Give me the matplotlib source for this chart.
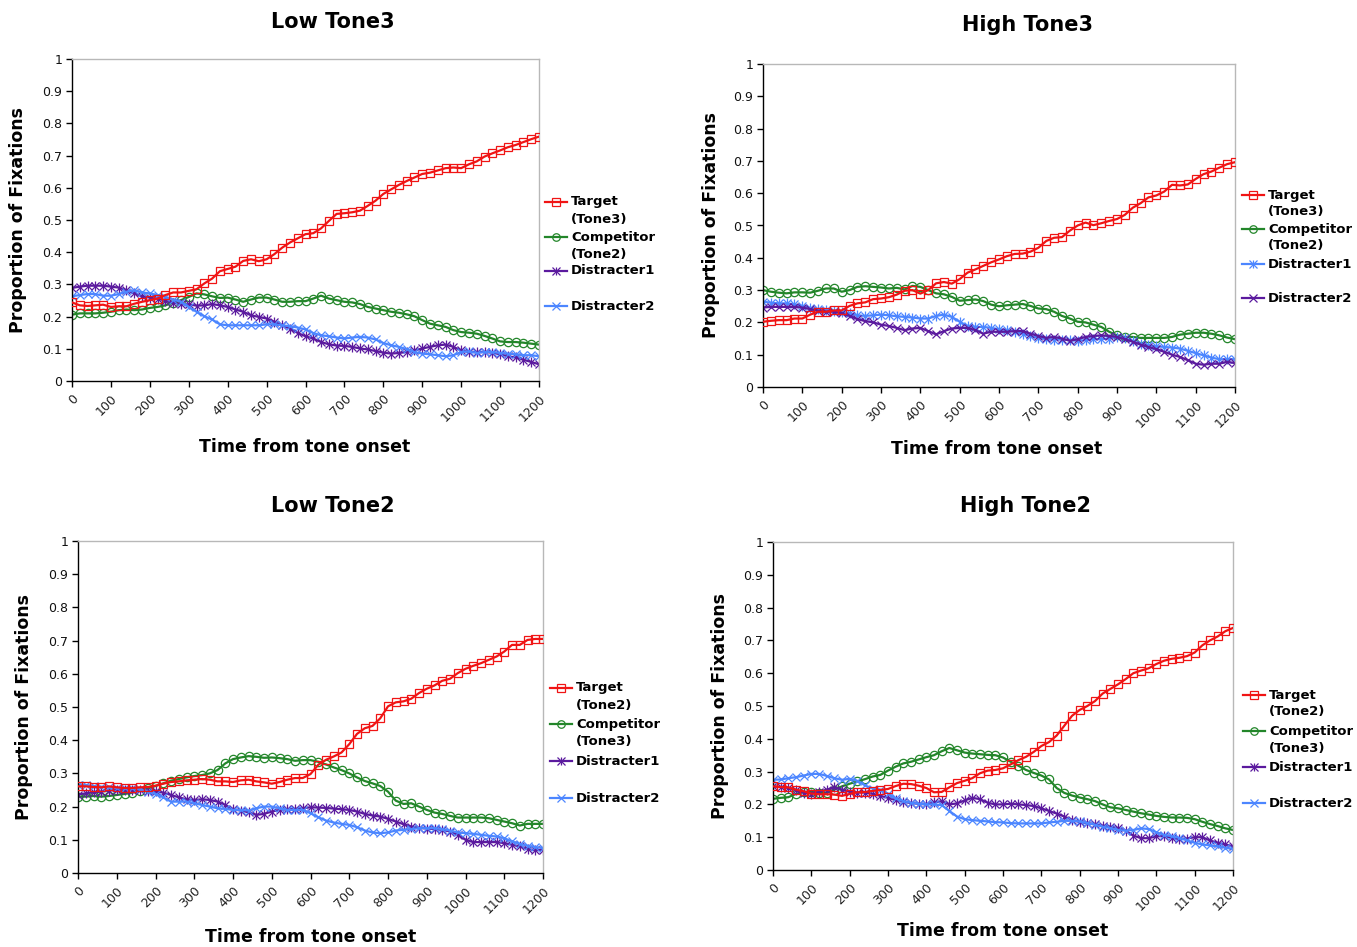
import numpy as np
import matplotlib
matplotlib.use("Agg")
import matplotlib.pyplot as plt
from matplotlib.lines import Line2D

# ---------------- data ----------------
times = list(range(0, 1201, 20))

# Low Tone3
lt3_target = [0.244,0.235,0.233,0.235,0.237,0.230,0.232,0.232,0.240,0.246,0.251,0.256,0.267,0.275,0.275,0.280,
              0.285,0.303,0.318,0.341,0.348,0.355,0.373,0.378,0.372,0.378,0.394,0.414,0.430,0.443,0.456,0.459,
              0.474,0.497,0.519,0.521,0.524,0.529,0.544,0.560,0.581,0.595,0.609,0.621,0.632,0.643,0.647,0.654,
              0.661,0.663,0.661,0.673,0.682,0.697,0.707,0.716,0.726,0.733,0.742,0.751,0.759]
lt3_comp = [0.206,0.210,0.210,0.210,0.212,0.215,0.220,0.222,0.220,0.222,0.227,0.230,0.235,0.243,0.251,0.261,
            0.272,0.269,0.263,0.258,0.259,0.253,0.246,0.253,0.259,0.259,0.253,0.246,0.246,0.248,0.248,0.256,
            0.265,0.256,0.251,0.246,0.244,0.239,0.230,0.225,0.220,0.215,0.212,0.207,0.201,0.189,0.178,0.173,
            0.168,0.158,0.152,0.150,0.147,0.140,0.132,0.123,0.121,0.121,0.119,0.116,0.113]
lt3_d1 = [0.289,0.293,0.296,0.296,0.296,0.293,0.290,0.282,0.272,0.263,0.259,0.256,0.249,0.243,0.239,0.238,
          0.234,0.235,0.239,0.235,0.230,0.222,0.215,0.204,0.199,0.194,0.184,0.173,0.163,0.149,0.139,0.132,
          0.121,0.114,0.110,0.109,0.106,0.101,0.098,0.093,0.088,0.085,0.087,0.090,0.095,0.101,0.106,0.111,
          0.113,0.106,0.095,0.090,0.090,0.090,0.088,0.083,0.077,0.073,0.066,0.059,0.052]
lt3_d2 = [0.263,0.267,0.270,0.270,0.265,0.265,0.270,0.277,0.282,0.275,0.272,0.267,0.261,0.253,0.246,0.230,
          0.215,0.201,0.191,0.176,0.173,0.173,0.173,0.173,0.173,0.176,0.176,0.173,0.170,0.166,0.160,0.149,
          0.142,0.139,0.135,0.132,0.135,0.137,0.135,0.129,0.118,0.111,0.106,0.099,0.090,0.085,0.083,0.080,
          0.077,0.080,0.090,0.092,0.087,0.090,0.090,0.087,0.085,0.083,0.080,0.080,0.077]

# High Tone3
ht3_target = [0.202,0.205,0.207,0.207,0.212,0.212,0.224,0.233,0.233,0.237,0.237,0.251,0.259,0.262,0.272,0.274,
              0.278,0.286,0.298,0.300,0.289,0.300,0.321,0.325,0.320,0.334,0.354,0.364,0.375,0.386,0.395,0.405,
              0.412,0.413,0.419,0.431,0.452,0.462,0.464,0.484,0.500,0.509,0.501,0.507,0.514,0.520,0.533,0.555,
              0.569,0.587,0.593,0.605,0.626,0.624,0.627,0.644,0.659,0.667,0.679,0.690,0.696]
ht3_comp = [0.300,0.295,0.292,0.290,0.293,0.293,0.292,0.298,0.305,0.305,0.295,0.300,0.310,0.312,0.310,0.308,
            0.305,0.307,0.302,0.313,0.310,0.300,0.290,0.287,0.279,0.267,0.269,0.271,0.266,0.255,0.250,0.253,
            0.255,0.257,0.251,0.243,0.241,0.233,0.220,0.212,0.202,0.200,0.193,0.186,0.171,0.160,0.155,0.155,
            0.152,0.152,0.152,0.152,0.155,0.162,0.165,0.168,0.168,0.165,0.160,0.153,0.148]
ht3_d1 = [0.264,0.261,0.259,0.259,0.256,0.251,0.245,0.241,0.238,0.235,0.233,0.228,0.222,0.220,0.222,0.224,
          0.222,0.219,0.217,0.215,0.212,0.212,0.220,0.224,0.217,0.202,0.189,0.186,0.186,0.183,0.179,0.176,
          0.171,0.165,0.158,0.152,0.148,0.147,0.147,0.145,0.143,0.145,0.148,0.148,0.150,0.155,0.152,0.142,
          0.134,0.129,0.126,0.124,0.122,0.119,0.112,0.105,0.098,0.091,0.086,0.086,0.086]
ht3_d2 = [0.246,0.248,0.248,0.248,0.248,0.246,0.241,0.236,0.233,0.233,0.228,0.220,0.210,0.204,0.200,0.193,
          0.189,0.183,0.176,0.181,0.183,0.173,0.163,0.173,0.181,0.183,0.183,0.176,0.165,0.171,0.171,0.171,
          0.173,0.173,0.165,0.158,0.152,0.155,0.150,0.143,0.148,0.155,0.158,0.160,0.158,0.155,0.148,0.140,
          0.131,0.124,0.117,0.109,0.100,0.093,0.083,0.072,0.069,0.072,0.072,0.078,0.074]

# Low Tone2
lt2_target = [0.261,0.261,0.259,0.258,0.261,0.258,0.256,0.256,0.258,0.259,0.263,0.269,0.274,0.276,0.279,0.281,
              0.283,0.281,0.276,0.276,0.274,0.279,0.281,0.276,0.273,0.269,0.274,0.281,0.286,0.286,0.298,0.326,
              0.341,0.351,0.363,0.388,0.419,0.436,0.443,0.466,0.502,0.514,0.517,0.525,0.542,0.555,0.565,0.579,
              0.585,0.602,0.615,0.624,0.632,0.642,0.652,0.667,0.687,0.687,0.702,0.705,0.705]
lt2_comp = [0.230,0.230,0.232,0.230,0.232,0.235,0.238,0.242,0.248,0.255,0.262,0.270,0.278,0.283,0.288,0.292,
            0.295,0.300,0.310,0.330,0.343,0.348,0.352,0.350,0.347,0.348,0.346,0.343,0.338,0.340,0.340,0.335,
            0.327,0.318,0.310,0.300,0.288,0.277,0.270,0.262,0.245,0.218,0.208,0.210,0.200,0.190,0.182,0.178,
            0.172,0.167,0.167,0.167,0.167,0.165,0.160,0.155,0.150,0.143,0.148,0.148,0.148]
lt2_d1 = [0.236,0.240,0.243,0.245,0.248,0.250,0.250,0.250,0.250,0.248,0.246,0.242,0.235,0.228,0.222,0.220,
          0.222,0.220,0.215,0.205,0.192,0.188,0.183,0.175,0.178,0.185,0.190,0.192,0.193,0.195,0.198,0.197,
          0.196,0.194,0.192,0.190,0.185,0.178,0.173,0.170,0.163,0.155,0.147,0.140,0.136,0.134,0.132,0.130,
          0.125,0.115,0.100,0.093,0.093,0.093,0.093,0.090,0.085,0.080,0.073,0.068,0.070]
lt2_d2 = [0.266,0.265,0.262,0.260,0.258,0.256,0.255,0.255,0.252,0.245,0.238,0.228,0.215,0.215,0.215,0.210,
          0.205,0.200,0.195,0.193,0.190,0.190,0.188,0.195,0.200,0.200,0.195,0.190,0.190,0.190,0.180,0.168,
          0.158,0.152,0.148,0.145,0.138,0.128,0.122,0.120,0.122,0.128,0.130,0.132,0.135,0.135,0.135,0.132,
          0.128,0.122,0.120,0.118,0.115,0.112,0.110,0.105,0.095,0.088,0.082,0.078,0.075]

# High Tone2
ht2_target = [0.255,0.253,0.252,0.245,0.240,0.233,0.231,0.231,0.230,0.226,0.232,0.237,0.238,0.241,0.244,0.247,
              0.256,0.263,0.262,0.257,0.250,0.237,0.238,0.252,0.265,0.272,0.280,0.295,0.303,0.305,0.310,0.322,
              0.335,0.345,0.360,0.378,0.390,0.410,0.440,0.470,0.488,0.500,0.515,0.538,0.552,0.566,0.582,0.600,
              0.608,0.615,0.628,0.638,0.644,0.647,0.652,0.663,0.685,0.700,0.712,0.728,0.738]
ht2_comp = [0.217,0.220,0.222,0.232,0.238,0.238,0.235,0.236,0.245,0.255,0.263,0.270,0.277,0.285,0.290,0.303,
            0.315,0.325,0.330,0.337,0.344,0.350,0.362,0.372,0.365,0.358,0.355,0.353,0.351,0.350,0.343,0.330,
            0.318,0.305,0.296,0.288,0.276,0.250,0.235,0.227,0.221,0.216,0.210,0.200,0.191,0.188,0.183,0.178,
            0.173,0.169,0.165,0.162,0.160,0.160,0.159,0.155,0.147,0.140,0.134,0.127,0.122]
ht2_d1 = [0.255,0.253,0.250,0.243,0.235,0.233,0.238,0.245,0.252,0.245,0.238,0.236,0.236,0.232,0.226,0.220,
          0.213,0.208,0.204,0.202,0.200,0.206,0.210,0.200,0.203,0.212,0.220,0.216,0.205,0.200,0.200,0.202,
          0.200,0.198,0.195,0.188,0.180,0.172,0.163,0.153,0.146,0.143,0.140,0.135,0.132,0.128,0.120,0.105,
          0.097,0.097,0.103,0.103,0.098,0.094,0.096,0.100,0.100,0.090,0.083,0.078,0.072]
ht2_d2 = [0.275,0.276,0.280,0.283,0.288,0.293,0.293,0.287,0.280,0.275,0.278,0.272,0.258,0.248,0.245,0.233,
          0.218,0.210,0.205,0.202,0.200,0.200,0.198,0.180,0.163,0.155,0.152,0.150,0.148,0.146,0.145,0.143,
          0.142,0.142,0.142,0.142,0.145,0.147,0.150,0.150,0.148,0.143,0.138,0.132,0.128,0.122,0.120,0.122,
          0.127,0.125,0.115,0.107,0.103,0.098,0.090,0.083,0.078,0.075,0.072,0.068,0.064]

titles = ["Low Tone3", "High Tone3", "Low Tone2", "High Tone2"]
xticks = list(range(0, 1201, 100))
yticks = [0, 0.1, 0.2, 0.3, 0.4, 0.5, 0.6, 0.7, 0.8, 0.9, 1]
ytick_labels = ["0", "0.1", "0.2", "0.3", "0.4", "0.5", "0.6", "0.7", "0.8", "0.9", "1"]

# ---------------- style ----------------
W, H = 1357, 947
RED = "#F01414"
GREEN = "#23862A"
PURPLE = "#5B1A9E"
BLUE = "#4C86FF"

def fx(px):
    return px / W

def fy(py):
    return 1 - py / H

fig = plt.figure(figsize=(W / 100, H / 100), dpi=100)
fig.patch.set_facecolor("white")

panels = [
    dict(box=(72, 59, 539, 381), title=(333, 22), ylab=(18, 220), xlab=(305, 447),
         series=[lt3_target, lt3_comp, lt3_d1, lt3_d2],
         leg_x=545, leg_y=[202, 237, 271, 306], tones=("Tone3", "Tone2"), swap=False),
    dict(box=(763, 64, 1235, 387), title=(1028, 25), ylab=(711, 225), xlab=(997, 449),
         series=[ht3_target, ht3_comp, ht3_d1, ht3_d2],
         leg_x=1242, leg_y=[195, 229, 264, 298], tones=("Tone3", "Tone2"), swap=True),
    dict(box=(78, 541, 543, 873), title=(333, 506), ylab=(24, 707), xlab=(311, 937),
         series=[lt2_target, lt2_comp, lt2_d1, lt2_d2],
         leg_x=550, leg_y=[688, 724, 761, 798], tones=("Tone2", "Tone3"), swap=False),
    dict(box=(773, 542, 1233, 870), title=(1025, 506), ylab=(720, 706), xlab=(1003, 931),
         series=[ht2_target, ht2_comp, ht2_d1, ht2_d2],
         leg_x=1243, leg_y=[695, 731, 767, 803], tones=("Tone2", "Tone3"), swap=False),
]

def series_style(k, swap):
    # returns color, marker spec list
    if k == 0:
        return RED, [("s", 6.0)]
    if k == 1:
        return GREEN, [("o", 6.0)]
    star = [("x", 6.0), ("|", 6.5)]
    cross = [("x", 6.0)]
    if k == 2:
        return (BLUE, star) if swap else (PURPLE, star)
    return (PURPLE, cross) if swap else (BLUE, cross)

for p, title in zip(panels, titles):
    l, t, r, b = p["box"]
    ax = fig.add_axes([fx(l), fy(b), fx(r - l), (b - t) / H])
    order = [1, 2, 3, 0]
    for k in order:
        vals = p["series"][k]
        color, mk = series_style(k, p["swap"])
        ax.plot(times, vals, color=color, lw=1.6, zorder=2 + (k == 0))
        for m, ms in mk:
            ax.plot(times, vals, ls="none", marker=m, ms=ms, mfc="none", mec=color,
                    mew=0.9, zorder=2 + (k == 0))
    ax.set_xlim(0, 1200)
    ax.set_ylim(0, 1)
    ax.set_xticks(xticks)
    ax.set_xticklabels([str(v) for v in xticks], rotation=45, ha="right", va="top",
                       rotation_mode="anchor", fontsize=9, color="#222222")
    ax.set_yticks(yticks)
    ax.set_yticklabels(ytick_labels, fontsize=9, color="#111111")
    ax.tick_params(direction="out", length=4, width=1, color="black", pad=3)
    ax.tick_params(axis="x", pad=4)
    for side in ("top", "right"):
        ax.spines[side].set_color("#B8B8B8")
        ax.spines[side].set_linewidth(1.0)
    for side in ("left", "bottom"):
        ax.spines[side].set_color("black")
        ax.spines[side].set_linewidth(1.0)

    fig.text(fx(p["title"][0]), fy(p["title"][1]), title, ha="center", va="center",
             fontsize=15, fontweight="bold")
    fig.text(fx(p["ylab"][0]), fy(p["ylab"][1]), "Proportion of Fixations", ha="center",
             va="center", rotation=90, fontsize=12.5, fontweight="bold")
    fig.text(fx(p["xlab"][0]), fy(p["xlab"][1]), "Time from tone onset", ha="center",
             va="center", fontsize=12.5, fontweight="bold")

    # manual legend
    labels = [("Target", "(" + p["tones"][0] + ")"), ("Competitor", "(" + p["tones"][1] + ")"),
              ("Distracter1", None), ("Distracter2", None)]
    lx = p["leg_x"]
    for k, (lab1, lab2) in enumerate(labels):
        color, mk = series_style(k, p["swap"])
        y = p["leg_y"][k]
        fig.add_artist(Line2D([fx(lx), fx(lx + 22)], [fy(y), fy(y)], color=color, lw=1.6,
                              transform=fig.transFigure))
        for m, ms in mk:
            fig.add_artist(Line2D([fx(lx + 11)], [fy(y)], ls="none", marker=m, ms=ms * 0.9,
                                  mfc="none", mec=color, mew=0.9, transform=fig.transFigure))
        fig.text(fx(lx + 26), fy(y), lab1, ha="left", va="center", fontsize=9.5,
                 fontweight="bold")
        if lab2:
            fig.text(fx(lx + 26), fy(y + 17), lab2, ha="left", va="center", fontsize=9.5,
                     fontweight="bold")

fig.savefig("out.png", dpi=100)
